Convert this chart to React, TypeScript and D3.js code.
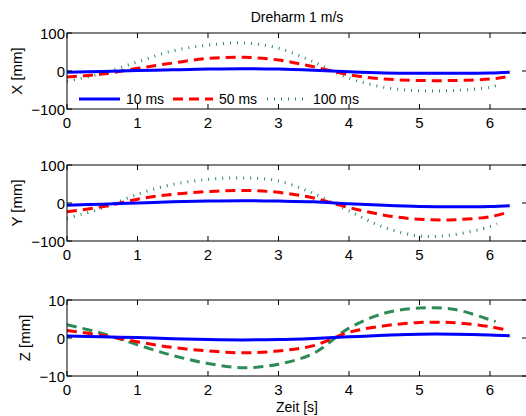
import React, { useEffect, useRef } from 'react';
import * as d3 from 'd3';

// time stamps (s) for each series; slower filters stop a bit earlier
const time10 = [0, 0.5, 1, 1.5, 2, 2.5, 3, 3.5, 4, 4.5, 5, 5.5, 6, 6.28];
const time50 = [0, 0.5, 1, 1.5, 2, 2.5, 3, 3.5, 4, 4.5, 5, 5.5, 6, 6.22];
const time100 = [0, 0.5, 1, 1.5, 2, 2.5, 3, 3.5, 4, 4.5, 5, 5.5, 6, 6.1];
const timeZ100 = [0, 0.5, 1, 1.5, 2, 2.5, 3, 3.5, 4, 4.5, 5, 5.5, 6, 6.08];

// X [mm]
const x10 = [-3, -1, 1, 3, 5, 6, 5, 2, -2, -5, -6, -6, -5, -3];
const x50 = [-16, -8, 7, 21, 33, 36, 29, 11, -10, -21, -25, -25, -21, -16];
const x100 = [-27, -6, 24, 53, 68, 74, 60, 24, -19, -43, -52, -51, -43, -37];

// Y [mm]
const y10 = [-6, -3, 0, 3, 5, 6, 5, 3, -2, -6, -9, -10, -9, -7];
const y50 = [-23, -10, 10, 23, 30, 33, 28, 13, -12, -32, -43, -44, -36, -26];
const y100 = [-40, -14, 23, 49, 62, 66, 58, 25, -21, -64, -87, -83, -62, -55];

// Z [mm]
const z10 = [0.5, 0.3, 0.1, -0.2, -0.4, -0.5, -0.4, -0.1, 0.3, 0.7, 1.0, 1.0, 0.8, 0.6];
const z50 = [2, 0.7, -1, -2.5, -3.4, -3.9, -3.4, -2, 1.5, 3.2, 4.1, 4.0, 3.0, 2.2];
const z100 = [3.5, 1.2, -1.8, -4.6, -6.7, -7.8, -6.9, -4.0, 2.6, 6.5, 7.9, 7.5, 4.8, 4.3];

const xTicks = [0, 1, 2, 3, 4, 5, 6];
const legendLabels = ['10 ms', '50 ms', '100 ms'];

const BLUE = '#0000ff';
const RED = '#ff0000';
const GREEN = '#2e8b57';
const FONT = '"Liberation Sans", Arial, Helvetica, sans-serif';

const App: React.FC = () => {
  const svgRef = useRef<SVGSVGElement>(null);

  useEffect(() => {
    if (!svgRef.current) return;
    const svg = d3.select(svgRef.current);
    svg.selectAll('*').remove();

    const width = 526;
    const height = 416;
    const left = 67;
    const right = 527; // right border sits just outside the picture
    const panelH = 76;

    const x = d3.scaleLinear().domain([0, 6.525]).range([left, right]);

    const panels = [
      {
        top: 33, label: 'X [mm]', labelX: 17, domain: [-100, 100], ticks: [-100, 0, 100],
        series: [
          { t: time10, v: x10, color: BLUE, dash: null as string | null },
          { t: time50, v: x50, color: RED, dash: '10,6' },
          { t: time100, v: x100, color: GREEN, dash: '1,6' }
        ]
      },
      {
        top: 165, label: 'Y [mm]', labelX: 17, domain: [-100, 100], ticks: [-100, 0, 100],
        series: [
          { t: time10, v: y10, color: BLUE, dash: null },
          { t: time50, v: y50, color: RED, dash: '10,6' },
          { t: time100, v: y100, color: GREEN, dash: '1,6' }
        ]
      },
      {
        top: 300, label: 'Z [mm]', labelX: 25, domain: [-10, 10], ticks: [-10, 0, 10],
        series: [
          { t: time10, v: z10, color: BLUE, dash: null },
          { t: time50, v: z50, color: RED, dash: '10,6' },
          { t: timeZ100, v: z100, color: GREEN, dash: '10,6' }
        ]
      }
    ];

    svg.attr('width', width).attr('height', height);
    svg.append('rect').attr('width', width).attr('height', height).attr('fill', '#fff');

    // title
    svg.append('text')
      .attr('x', (left + right) / 2)
      .attr('y', 17)
      .attr('dy', '0.35em')
      .attr('text-anchor', 'middle')
      .attr('font-family', FONT)
      .attr('font-size', '14px')
      .text('Dreharm 1 m/s');

    panels.forEach((p, pi) => {
      const bottom = p.top + panelH;
      const y = d3.scaleLinear().domain(p.domain).range([bottom, p.top]);
      const g = svg.append('g');

      const clipId = `clip-${pi}`;
      svg.append('defs').append('clipPath').attr('id', clipId)
        .append('rect').attr('x', left).attr('y', p.top).attr('width', right - left).attr('height', panelH);

      const lineGen = d3.line<[number, number]>()
        .x(d => x(d[0]))
        .y(d => y(d[1]))
        .curve(d3.curveCatmullRom.alpha(0.5));

      // draw slowest first so the blue line ends up on top
      [...p.series].reverse().forEach(s => {
        const pts = s.t.map((t, i) => [t, s.v[i]] as [number, number]);
        g.append('path')
          .attr('d', lineGen(pts))
          .attr('fill', 'none')
          .attr('stroke', s.color)
          .attr('stroke-width', 3)
          .attr('stroke-dasharray', s.dash)
          .attr('clip-path', `url(#${clipId})`);
      });

      // frame
      g.append('rect')
        .attr('x', left)
        .attr('y', p.top)
        .attr('width', right - left)
        .attr('height', panelH)
        .attr('fill', 'none')
        .attr('stroke', '#000')
        .attr('stroke-width', 1);

      // x ticks (bottom + top, pointing in)
      xTicks.forEach(t => {
        g.append('line').attr('x1', x(t)).attr('x2', x(t)).attr('y1', bottom).attr('y2', bottom - 5).attr('stroke', '#000');
        g.append('line').attr('x1', x(t)).attr('x2', x(t)).attr('y1', p.top).attr('y2', p.top + 5).attr('stroke', '#000');
        g.append('text')
          .attr('x', x(t))
          .attr('y', bottom + 14)
          .attr('dy', '0.35em')
          .attr('text-anchor', 'middle')
          .attr('font-family', FONT)
          .attr('font-size', '15px')
          .text(d3.format('d')(t));
      });

      // y ticks (left + right, pointing in)
      p.ticks.forEach(v => {
        g.append('line').attr('x1', left).attr('x2', left + 5).attr('y1', y(v)).attr('y2', y(v)).attr('stroke', '#000');
        g.append('line').attr('x1', right).attr('x2', right - 5).attr('y1', y(v)).attr('y2', y(v)).attr('stroke', '#000');
        g.append('text')
          .attr('x', left - 2)
          .attr('y', y(v) + 1)
          .attr('dy', '0.35em')
          .attr('text-anchor', 'end')
          .attr('font-family', FONT)
          .attr('font-size', '15px')
          .text(v < 0 ? `\u2212${Math.abs(v)}` : `${v}`);
      });

      // y label
      g.append('text')
        .attr('transform', `translate(${p.labelX},${(p.top + bottom) / 2}) rotate(-90)`)
        .attr('dy', '0.35em')
        .attr('text-anchor', 'middle')
        .attr('font-family', FONT)
        .attr('font-size', '15px')
        .text(p.label);

      // legend only in the first panel
      if (pi === 0) {
        const legendY = 99;
        const items = [
          { x0: 79, x1: 120, tx: 126 },
          { x0: 173, x1: 213, tx: 219 },
          { x0: 267, x1: 305, tx: 313 }
        ];
        items.forEach((it, i) => {
          const s = p.series[i];
          g.append('line')
            .attr('x1', it.x0).attr('x2', it.x1)
            .attr('y1', legendY).attr('y2', legendY)
            .attr('stroke', s.color)
            .attr('stroke-width', 3)
            .attr('stroke-dasharray', s.dash);
          g.append('text')
            .attr('x', it.tx)
            .attr('y', legendY)
            .attr('dy', '0.35em')
            .attr('font-family', FONT)
            .attr('font-size', '14px')
            .text(legendLabels[i]);
        });
      }
    });

    // x label
    svg.append('text')
      .attr('x', (left + right) / 2)
      .attr('y', 407)
      .attr('dy', '0.35em')
      .attr('text-anchor', 'middle')
      .attr('font-family', FONT)
      .attr('font-size', '14px')
      .text('Zeit [s]');
  }, []);

  return (
    <div style={{ position: 'absolute', left: 0, top: 0, width: 526, height: 416, overflow: 'hidden' }}>
      <svg ref={svgRef} style={{ display: 'block' }}></svg>
    </div>
  );
};

export default App;
